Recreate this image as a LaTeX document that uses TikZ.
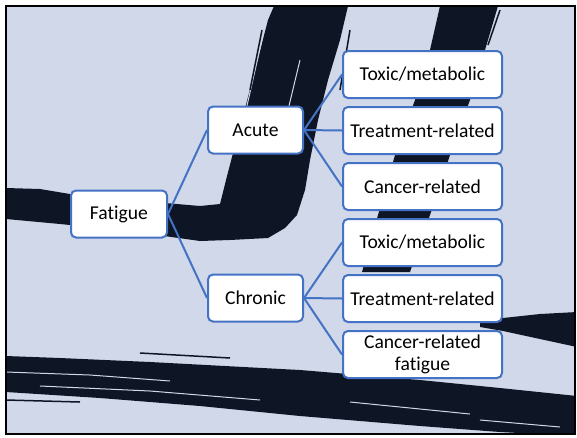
\documentclass[tikz,border=0pt]{standalone}
\usepackage{fontspec}
\setmainfont{Carlito}[Ligatures=NoCommon]
\usepackage{xcolor}
\usetikzlibrary{positioning}
\definecolor{slide}{RGB}{209,216,233}
\definecolor{ink}{RGB}{14,21,36}
\definecolor{boxblue}{RGB}{68,114,196}

\begin{document}
\begin{tikzpicture}[
  x=1pt, y=-1pt,
  node distance=7pt,
  box/.style={draw=boxblue, line width=2pt, rounded corners=5pt, fill=white,
              align=center, inner sep=2pt, minimum height=47pt,
              font=\fontsize{19.6}{22}\selectfont},
  root/.style={box, minimum width=96pt},
  mid/.style={box, minimum width=95pt},
  leaf/.style={box, minimum width=159pt},
  link/.style={draw=boxblue, line width=2pt},
  streak/.style={slide, line width=1pt},
  spray/.style={ink, line width=1.5pt}]
\useasboundingbox (0,0) rectangle (577,437);
\fill[white] (0,0) rectangle (577,437);
\fill[slide] (6,6) rectangle (575,434);
\begin{scope}
\clip (6,6) rectangle (575,434);
\fill[ink] (6,188) -- (40,189) -- (70,194) -- (130,200) -- (200,206) -- (220,204)
  -- (226,180) -- (232,157) -- (242,120) -- (255,70) -- (268,20) -- (274,6)
  -- (348,6) -- (340,40) -- (328,80) -- (318,120) -- (310,160) -- (305,190)
  -- (297,215) -- (285,228) -- (268,238) -- (230,240) -- (200,241) -- (150,234)
  -- (100,228) -- (60,224) -- (6,219) -- cycle;
\fill[ink] (440,6) -- (498,6) -- (485,50) -- (470,100) -- (450,155) -- (430,215)
  -- (410,272) -- (362,272) -- (378,215) -- (395,155) -- (415,100) -- (430,50) -- cycle;
\fill[ink] (480,322) -- (503,318) -- (540,314) -- (577,312) -- (577,347)
  -- (540,339) -- (503,331) -- (480,327) -- cycle;
\fill[ink] (6,356) -- (60,358) -- (150,362) -- (300,370) -- (420,380) -- (500,388)
  -- (577,396) -- (577,436) -- (500,432) -- (420,426) -- (300,416) -- (200,406)
  -- (100,398) -- (6,392) -- cycle;
\draw[streak] (6,372) -- (90,375) -- (170,381);
\draw[streak] (40,386) -- (150,391) -- (260,400);
\draw[streak] (350,402) -- (470,414);
\draw[streak] (480,420) -- (560,427);
\draw[streak] (262,40) -- (246,110);
\draw[streak] (300,60) -- (288,110);
\draw[spray] (6,400) -- (80,402);
\draw[spray] (140,353) -- (230,358);
\draw[spray] (350,30) -- (340,90);
\draw[spray] (500,10) -- (488,45);
\draw[spray] (262,30) -- (250,90);
\end{scope}
\draw[black, line width=2pt] (6,6) rectangle (575,434);
\node[root] (fatigue) at (119,214) {Fatigue};
\node[mid] (acute) at (255.5,130) {Acute};
\node[mid] (chronic) at (255.5,298) {Chronic};
\node[leaf] (atox) at (422.5,74.5) {Toxic/metabolic};
\node[leaf, below=of atox] (atreat) {Treatment-related};
\node[leaf, below=of atreat] (acancer) {Cancer-related};
\node[leaf, below=of acancer] (ctox) {Toxic/metabolic};
\node[leaf, below=of ctox] (ctreat) {Treatment-related};
\node[leaf, below=of ctreat] (ccancer) {Cancer-related\\fatigue};
\draw[link] (fatigue.east) -- (acute.west);
\draw[link] (fatigue.east) -- (chronic.west);
\draw[link] (acute.east) -- (atox.west);
\draw[link] (acute.east) -- (atreat.west);
\draw[link] (acute.east) -- (acancer.west);
\draw[link] (chronic.east) -- (ctox.west);
\draw[link] (chronic.east) -- (ctreat.west);
\draw[link] (chronic.east) -- (ccancer.west);
\end{tikzpicture}
\end{document}
